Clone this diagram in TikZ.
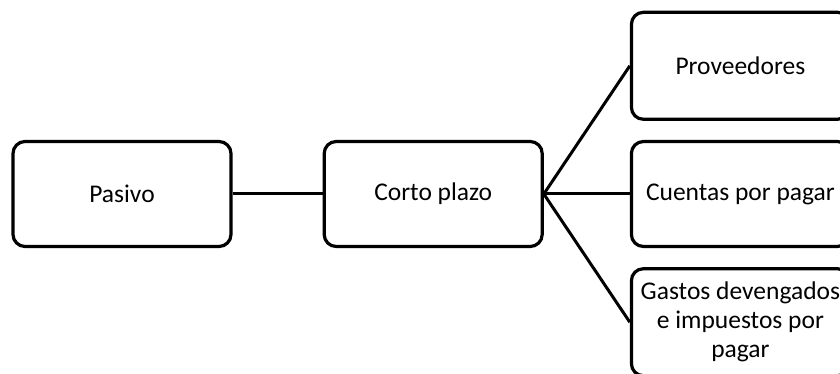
\documentclass[tikz,border=0pt]{standalone}
\usepackage{fontspec}
\setmainfont{Carlito}
\usetikzlibrary{positioning}

\begin{document}
\begin{tikzpicture}[
    node distance=19pt and 86pt,
    block/.style={rectangle, draw, line width=3.2pt, rounded corners=12pt, minimum width=218pt, minimum height=105pt, align=center, font=\fontsize{25.5}{29}\selectfont},
    line/.style={draw, line width=3pt}
]
    \useasboundingbox (0,0) rectangle (840pt,-374pt);
    \clip (0,0) rectangle (840pt,-374pt);

    \node [block] (pasivo) at (122pt,-194pt) {Pasivo};
    \node [block, right=90pt of pasivo] (corto) {Corto plazo};
    \node [block, right=of corto] (cuentas) {Cuentas por pagar};
    \node [block, above=of cuentas, minimum height=107pt] (prov) {Proveedores};
    \node [block, below=of cuentas, minimum height=107pt] (gastos) {Gastos devengados\\e impuestos por\\pagar};

    \path [line] (pasivo) -- (corto);
    \path [line] (corto.east) -- (prov.west);
    \path [line] (corto.east) -- (cuentas.west);
    \path [line] (corto.east) -- (gastos.west);
\end{tikzpicture}
\end{document}
